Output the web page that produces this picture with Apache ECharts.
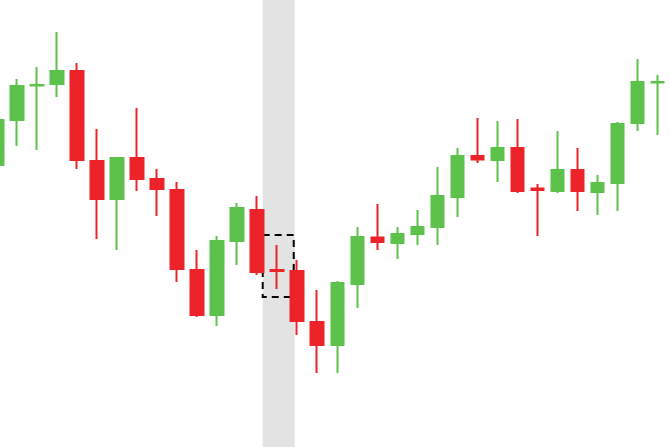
<!DOCTYPE html>
<html>
<head>
<meta charset="utf-8">
<style>
  html, body { margin: 0; padding: 0; background: #fff; overflow: hidden; }
  /* first candle is cut by the left edge, so the chart box starts a bit off-screen */
  #chart { position: absolute; left: -13.5px; top: 0; width: 683.5px; height: 447px; }
</style>
<script src="https://cdn.jsdelivr.net/npm/echarts@6/dist/echarts.min.js"></script>
</head>
<body>
<div id="chart"></div>
<script>
// candle data (price units, no scale shown)
const dates = [
  '03-01', '03-02', '03-03', '03-06', '03-07', '03-08', '03-09', '03-10', '03-13', '03-14',
  '03-15', '03-16', '03-17', '03-20', '03-21', '03-22', '03-23', '03-24', '03-27', '03-28',
  '03-29', '03-30', '03-31', '04-03', '04-04', '04-05', '04-06', '04-07', '04-10', '04-11',
  '04-12', '04-13', '04-14', '04-17'
];
const openArr  = [28.2, 32.7, 36.15, 36.3, 37.6, 28.6, 24.8, 28.9, 26.8, 25.7, 17.7, 13.2, 20.6, 23.7, 17.7, 17.6, 12.5, 10.2, 16.3, 20.95, 20.4, 21.3, 22.0, 25.0, 29.1, 28.7, 29.9, 25.85, 25.6, 27.7, 25.5, 26.4, 32.4, 36.45];
const closeArr = [32.7, 36.1, 36.2, 37.6, 28.7, 24.8, 28.9, 26.8, 25.8, 17.8, 13.2, 20.6, 23.9, 17.5, 17.6, 12.6, 10.2, 16.4, 21.0, 20.5, 21.3, 22.0, 25.1, 29.1, 28.75, 29.9, 25.6, 25.7, 27.7, 25.6, 26.4, 32.3, 36.5, 36.5];
const highArr  = [33.1, 36.8, 38.0, 41.5, 38.4, 31.8, 28.9, 33.9, 27.8, 26.5, 19.7, 21.1, 24.4, 25.1, 20.2, 18.7, 15.7, 16.6, 22.0, 24.3, 22.0, 23.7, 28.0, 29.9, 32.9, 32.6, 32.8, 26.3, 31.6, 29.9, 27.2, 32.5, 38.8, 37.2];
const lowArr   = [27.9, 30.1, 29.7, 35.0, 27.8, 20.8, 19.7, 25.6, 23.1, 16.5, 13.0, 12.1, 18.2, 17.2, 15.8, 11.2, 7.4, 7.4, 13.9, 19.7, 18.8, 20.2, 20.2, 23.0, 28.4, 26.5, 25.4, 21.1, 25.4, 23.6, 23.2, 23.6, 31.6, 31.2];

// highlighted candle: shaded column and dashed frame (x in candle-index units)
const shadeRange = [13.275, 14.875];
const frameX = [13.275, 14.825];
const frameY = [15.0, 21.2];

const upColor = '#5cc24b';
const downColor = '#ec2328';

const chart = echarts.init(document.getElementById('chart'));

const candleData = dates.map((d, i) => [openArr[i], closeArr[i], lowArr[i], highArr[i]]);

chart.setOption({
  animation: false,
  grid: { left: 0, right: 3.5, top: 0, bottom: 0 },
  xAxis: [
    {
      type: 'category',
      data: dates,
      show: false,
      boundaryGap: true
    },
    {
      type: 'value',
      show: false,
      min: -0.5,
      max: dates.length - 0.5
    }
  ],
  yAxis: {
    type: 'value',
    show: false,
    min: 0,
    max: 44.7
  },
  series: [
    {
      type: 'line',
      xAxisIndex: 1,
      data: [],
      silent: true,
      z: 1,
      markArea: {
        silent: true,
        itemStyle: { color: '#e3e3e3' },
        data: [[{ xAxis: shadeRange[0] }, { xAxis: shadeRange[1] }]]
      }
    },
    {
      type: 'candlestick',
      data: candleData,
      barWidth: 13,
      z: 2,
      itemStyle: {
        color: upColor,
        color0: downColor,
        borderColor: upColor,
        borderColor0: downColor,
        borderWidth: 2
      }
    },
    {
      type: 'line',
      xAxisIndex: 1,
      data: [],
      silent: true,
      z: 3,
      markArea: {
        silent: true,
        itemStyle: {
          color: 'rgba(0,0,0,0)',
          borderColor: '#000',
          borderWidth: 2,
          borderType: [7, 5]
        },
        data: [[
          { xAxis: frameX[0], yAxis: frameY[1] },
          { xAxis: frameX[1], yAxis: frameY[0] }
        ]]
      }
    }
  ]
});
</script>
</body>
</html>
